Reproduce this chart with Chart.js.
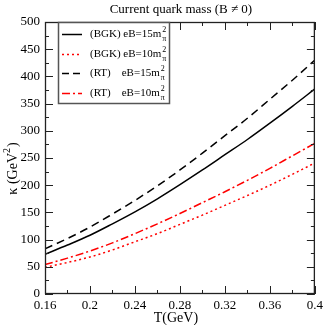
<!DOCTYPE html>
<html><head><meta charset="utf-8">
<script src="https://cdn.jsdelivr.net/npm/chart.js@4"></script>
<style>html,body{margin:0;padding:0;background:#fff}canvas{display:block}</style>
</head><body>
<canvas id="c" width="327" height="325"></canvas>
<script>
const temps = [0.16,0.18,0.20,0.22,0.24,0.26,0.28,0.30,0.32,0.34,0.36,0.38,0.40];
const bgk15 = [73,90,108,129,151,175,201,228,256,284,314,345,377];
const bgk10 = [49,58,68,81,96,111,128,145,163,181,200,220,241];
const rt15  = [83,102,123,147,172,199,228,259,291,323,358,393,430];
const rt10  = [54,66,79,94,111,129,148,168,188,209,231,254,277];
const xTicks = [0.16,0.2,0.24,0.28,0.32,0.36,0.4];
const yTicks = [0,50,100,150,200,250,300,350,400,450,500];
const titleText = 'Current quark mass (B \u2260 0)';
const xTitle = 'T(GeV)';
const legendItems = [
  {pre:'(BGK) eB=15m', color:'#000', dash:[]},
  {pre:'(BGK) eB=10m', color:'#ff0000', dash:[2,3]},
  {pre:'(RT)    eB=15m', color:'#000', dash:[7,4]},
  {pre:'(RT)    eB=10m', color:'#ff0000', dash:[8,3,2,3]}
];
const SERIF = '"Liberation Serif","DejaVu Serif",serif';

function mk(data,label,color,dash){
  return {label, data: temps.map((t,i)=>({x:t,y:data[i]})), borderColor:color, borderWidth:1.5,
    borderDash:dash, pointRadius:0, fill:false, tension:0.4, cubicInterpolationMode:'monotone'};
}

const deco = {
  id:'deco',
  afterDraw(chart){
    const ctx = chart.ctx, a = chart.chartArea, xs = chart.scales.x, ys = chart.scales.y;
    ctx.save();
    ctx.strokeStyle='#222'; ctx.lineWidth=1.3; ctx.setLineDash([]);
    ctx.strokeRect(a.left+0.5, a.top+0.5, a.right-a.left-1, a.bottom-a.top-1);
    ctx.lineWidth=1;
    for(let v=0.16; v<=0.4001; v+=0.02){
      const major = xTicks.some(t=>Math.abs(t-v)<1e-6);
      const L = major?8:4; const px = Math.round(xs.getPixelForValue(v))+0.5;
      ctx.beginPath(); ctx.moveTo(px,a.bottom); ctx.lineTo(px,a.bottom-L);
      ctx.moveTo(px,a.top); ctx.lineTo(px,a.top+L); ctx.stroke();
    }
    for(let v=0; v<=500; v+=25){
      const major = v%50===0; const L = major?8:4; const py = Math.round(ys.getPixelForValue(v))+0.5;
      ctx.beginPath(); ctx.moveTo(a.left,py); ctx.lineTo(a.left+L,py);
      ctx.moveTo(a.right,py); ctx.lineTo(a.right-L,py); ctx.stroke();
    }
    ctx.fillStyle='#000'; ctx.textAlign='center'; ctx.textBaseline='alphabetic';
    ctx.font='13px '+SERIF;
    ctx.fillText(titleText, (a.left+a.right)/2+1, 13);
    ctx.font='14px '+SERIF;
    ctx.fillText(xTitle, (a.left+a.right)/2-4, 322);
    ctx.save();
    ctx.translate(17,168); ctx.rotate(-Math.PI/2);
    ctx.font='14px '+SERIF;
    const kp='\u03BA (GeV'; const wk=ctx.measureText(kp).width;
    ctx.textAlign='left';
    const total = wk + ctx.measureText(')').width + 7;
    let sx=-total/2;
    ctx.fillText(kp, sx, 0); sx+=wk;
    ctx.font='10px '+SERIF; ctx.fillText('2', sx, -7); sx+=6;
    ctx.font='14px '+SERIF; ctx.fillText(')', sx, 0);
    ctx.restore();
    const lx=58, ly=22, lw=111, lh=81;
    ctx.fillStyle='#fff'; ctx.fillRect(lx,ly,lw,lh);
    ctx.strokeStyle='#555'; ctx.lineWidth=1.5; ctx.strokeRect(lx+0.5,ly+0.5,lw,lh);
    legendItems.forEach((it,i)=>{
      const y = Math.round(34 + i*19.6)+0.5;
      ctx.strokeStyle=it.color; ctx.lineWidth=1.5; ctx.setLineDash(it.dash);
      ctx.beginPath(); ctx.moveTo(62,y); ctx.lineTo(82,y); ctx.stroke();
      ctx.setLineDash([]);
      ctx.fillStyle='#000'; ctx.textAlign='left'; ctx.textBaseline='middle';
      ctx.font='11px '+SERIF;
      let tx=90; ctx.fillText(it.pre, tx, y); tx+=ctx.measureText(it.pre).width;
      ctx.font='8px '+SERIF; ctx.fillText('2', tx+1, y-5); ctx.fillText('\u03C0', tx+1, y+4);
    });
    ctx.restore();
  }
};

new Chart(document.getElementById('c'), {
  type:'line',
  data:{datasets:[
    mk(bgk15,'(BGK) eB=15m\u00B2\u03C0','#000',[]),
    mk(bgk10,'(BGK) eB=10m\u00B2\u03C0','#ff0000',[2,3]),
    mk(rt15,'(RT) eB=15m\u00B2\u03C0','#000',[8,5]),
    mk(rt10,'(RT) eB=10m\u00B2\u03C0','#ff0000',[8,3,2,3])
  ]},
  options:{
    responsive:false, animation:false, devicePixelRatio:1,
    layout:{padding:{left:0,top:22,right:10,bottom:0}},
    plugins:{legend:{display:false}, title:{display:false}, tooltip:{enabled:false}},
    scales:{
      x:{type:'linear', min:0.16, max:0.4,
        afterBuildTicks(s){ s.ticks = xTicks.map(v=>({value:v})); },
        afterFit(s){ s.height=31; },
        grid:{display:false, drawTicks:false}, border:{display:false},
        ticks:{padding:4, color:'#000', font:{family:SERIF,size:13}, maxRotation:0, autoSkip:false,
          callback:(v)=>String(+v.toFixed(2))}},
      y:{min:0, max:500,
        afterBuildTicks(s){ s.ticks = yTicks.map(v=>({value:v})); },
        afterFit(s){ s.width=45; },
        grid:{display:false, drawTicks:false}, border:{display:false},
        ticks:{padding:5, color:'#000', font:{family:SERIF,size:13}}}
    }
  },
  plugins:[deco]
});
</script>
</body></html>
